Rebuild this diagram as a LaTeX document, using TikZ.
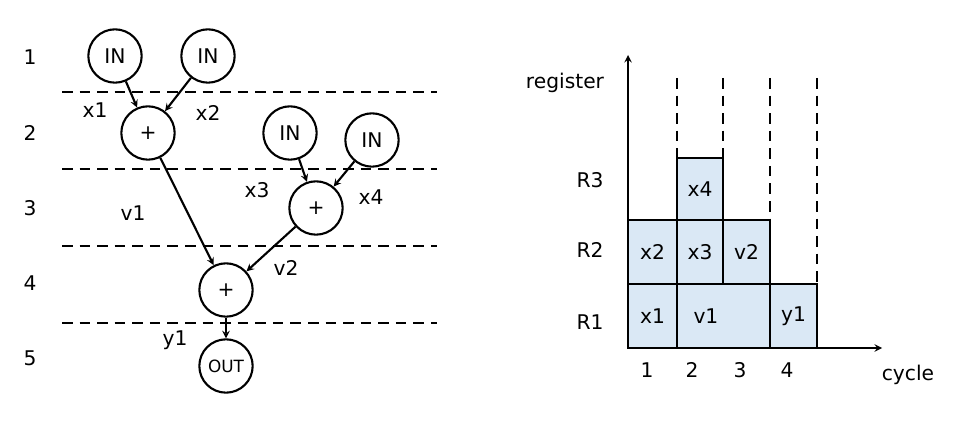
\documentclass[tikz,border=0pt]{standalone}
\usepackage{fontspec}
\setmainfont{DejaVu Sans}
\usetikzlibrary{positioning}
\definecolor{regblue}{RGB}{218,232,245}
\tikzset{
  op/.style={circle,draw,line width=1.8pt,minimum size=1.6cm,inner sep=0pt,font=\LARGE},
  lbl/.style={font=\LARGE},
  edge/.style={->,line width=1.8pt,>=stealth},
  sep/.style={line width=1.8pt,dash pattern=on 9pt off 6pt},
  reg/.style={draw,line width=1.8pt,fill=regblue,font=\LARGE}
}
\begin{document}
\begin{tikzpicture}[x=0.03cm,y=-0.03cm]
  \useasboundingbox (0,0) rectangle (973,431);
  % schedule
  \foreach \t/\y in {1/57,2/133,3/208,4/283,5/358}
    \node[lbl] (s\t) at (30,\y) {\t};
  \foreach \y in {92,169,246,323}
    \draw[sep] (62,\y) -- (437,\y);
  \node[op] (in1) at (115,56) {IN};
  \node[op] (in2) at (208,56) {IN};
  \node[op] (add1) at (148,133) {+};
  \node[op] (in3) at (290,133) {IN};
  \node[op] (in4) at (372,140) {IN};
  \node[op] (add2) at (316,208) {+};
  \node[op] (add3) at (226,290) {+};
  \node[op,font=\Large] (out) at (226,366) {OUT};
  \draw[edge] (in1) -- (add1);
  \draw[edge] (in2) -- (add1);
  \draw[edge] (add1) -- (add3);
  \draw[edge] (in3) -- (add2);
  \draw[edge] (in4) -- (add2);
  \draw[edge] (add2) -- (add3);
  \draw[edge] (add3) -- (out);
  \node[lbl] (lx1) at (95,110) {x1};
  \node[lbl] (lx2) at (208,113) {x2};
  \node[lbl] (lx3) at (257,190) {x3};
  \node[lbl] (lx4) at (371,197) {x4};
  \node[lbl] (lv1) at (133,213) {v1};
  \node[lbl] (lv2) at (286,268) {v2};
  \node[lbl] (ly1) at (175,340) {y1};
  % register allocation
  \coordinate (o) at (628,348);
  \coordinate (ytop) at (628,55);
  \coordinate (xend) at (882,348);
  \foreach \x/\b in {677/158,723/158,770/220,817/284}
    \draw[sep] (\x,78) -- (\x,\b);
  \node[reg,minimum width=49*0.03cm,minimum height=64*0.03cm] (bx1) at (652.5,316) {x1};
  \node[reg,minimum width=93*0.03cm,minimum height=64*0.03cm,text width=1.8cm] (bv1) at (723.5,316) {v1};
  \node[reg,minimum width=47*0.03cm,minimum height=64*0.03cm] (by1) at (793.5,316) {y1};
  \node[reg,minimum width=49*0.03cm,minimum height=64*0.03cm] (bx2) at (652.5,252) {x2};
  \node[reg,minimum width=46*0.03cm,minimum height=64*0.03cm] (bx3) at (700,252) {x3};
  \node[reg,minimum width=47*0.03cm,minimum height=64*0.03cm] (bv2) at (746.5,252) {v2};
  \node[reg,minimum width=46*0.03cm,minimum height=62*0.03cm] (bx4) at (700,189) {x4};
  \draw[edge] (o) -- (ytop);
  \draw[edge] (o) -- (xend);
  \node[lbl] (areg) at (565,83) {register};
  \node[lbl] (acyc) at (908,375) {cycle};
  \foreach \r/\y in {3/180,2/250,1/322}
    \node[lbl] (r\r) at (590,\y) {R\r};
  \foreach \c/\x in {1/647,2/692,3/740,4/787}
    \node[lbl] (c\c) at (\x,370) {\c};
\end{tikzpicture}
\end{document}
